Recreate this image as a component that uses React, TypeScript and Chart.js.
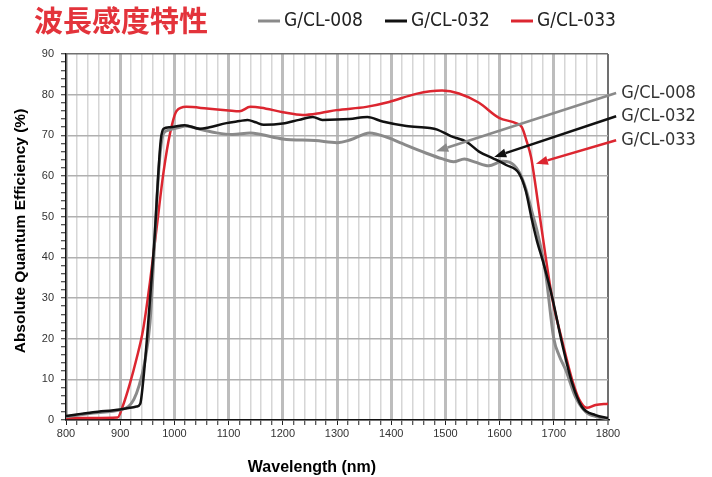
import React, { useEffect, useRef } from "react";
import { Chart, registerables } from "chart.js";

Chart.register(...registerables);

const chartTitle = "波長感度特性";
const xAxisTitle = "Wavelength (nm)";
const yAxisTitle = "Absolute Quantum Efficiency (%)";
const seriesNames = ["G/CL-008", "G/CL-032", "G/CL-033"];
const seriesColors = ["#8a8a8a", "#111111", "#dc2630"];
const seriesWidths = [3, 2.5, 2.5];

const xMin = 800;
const xMax = 1800;
const xStep = 20;
const yMin = 0;
const yMax = 90;
const yStep = 2;

const wl008 = [800, 850, 900, 915, 925, 935, 945, 955, 962, 968, 974, 980, 990, 1010, 1020, 1047, 1078, 1107, 1140, 1160, 1200, 1260, 1300, 1325, 1360, 1395, 1420, 1465, 1495, 1515, 1535, 1555, 1580, 1605, 1618, 1636, 1648, 1660, 1670, 1685, 1700, 1710, 1722, 1740, 1759, 1780, 1800];
const qe008 = [0.8, 1.7, 2.5, 3.3, 5, 8.5, 14, 24, 40, 55, 66, 70.5, 71.3, 72, 72.3, 71.5, 70.6, 70.2, 70.6, 70.2, 69.1, 68.7, 68.2, 68.9, 70.6, 69.4, 68, 65.6, 64.2, 63.5, 64.2, 63.4, 62.5, 63.6, 63.4, 61, 57, 51, 46, 36, 20, 15.8, 12.3, 5.7, 2, 0.8, 0.3];

const wl032 = [800, 850, 900, 930, 937, 942, 950, 958, 964, 970, 975, 980, 992, 1019, 1047, 1065, 1096, 1120, 1135, 1150, 1165, 1200, 1230, 1255, 1273, 1323, 1356, 1384, 1428, 1471, 1485, 1510, 1539, 1562, 1587, 1612, 1636, 1648, 1660, 1669, 1680, 1697, 1715, 1734, 1752, 1777, 1800];
const qe032 = [1.0, 1.9, 2.6, 3.3, 4, 9, 21, 35, 46, 60, 69, 71.6, 72, 72.5, 71.6, 72, 73, 73.5, 73.8, 73.2, 72.6, 72.9, 73.8, 74.5, 73.8, 74, 74.5, 73.4, 72.3, 71.8, 71.4, 69.8, 68.4, 66, 64.4, 62.7, 60.6, 56.5, 49, 44, 39, 30.2, 19, 9, 3.2, 1.2, 0.5];

const wl033 = [800, 850, 895, 905, 918, 930, 942, 955, 967, 980, 992, 1004, 1022, 1060, 1100, 1120, 1140, 1160, 1200, 1237, 1270, 1299, 1354, 1396, 1446, 1494, 1525, 1562, 1599, 1630, 1641, 1650, 1658, 1667, 1677, 1697, 1715, 1734, 1747, 1761, 1777, 1800];
const qe033 = [0.5, 0.5, 0.6, 3.5, 9, 15, 22, 34, 47, 61, 70.5, 76, 77, 76.6, 76.1, 75.9, 77, 76.8, 75.7, 75, 75.5, 76.2, 77, 78.2, 80.2, 81, 80.3, 78, 74.3, 73, 72, 68.5, 64.7, 57, 47.5, 30, 19.7, 9.8, 5, 3, 3.7, 4];

// callout arrows: tip on the curve, tail to the right of the plot (data units)
const arrowTipNm = [1483, 1590, 1667];
const arrowTipQe = [66.1, 64.7, 63];
const arrowTailNm = [1815, 1815, 1815];
const arrowTailQe = [80.4, 74.7, 68.8];

const condensed = '"DejaVu Sans Condensed", "DejaVu Sans", sans-serif';
const arial = '"Liberation Sans", Arial, sans-serif';

const overlay = {
  id: "overlay",
  afterDraw(chart: any) {
    const { ctx } = chart;
    const x = chart.scales.x;
    const y = chart.scales.y;
    ctx.save();

    // callouts
    for (let i = 0; i < seriesNames.length; i++) {
      const tx = x.getPixelForValue(arrowTipNm[i]);
      const ty = y.getPixelForValue(arrowTipQe[i]);
      const sx = x.getPixelForValue(arrowTailNm[i]);
      const sy = y.getPixelForValue(arrowTailQe[i]);
      const ang = Math.atan2(ty - sy, tx - sx);
      const headLen = 12;
      const headW = 4.5;
      const bx = tx - Math.cos(ang) * headLen;
      const by = ty - Math.sin(ang) * headLen;
      ctx.strokeStyle = seriesColors[i];
      ctx.fillStyle = seriesColors[i];
      ctx.lineWidth = 2.5;
      ctx.beginPath();
      ctx.moveTo(sx, sy);
      ctx.lineTo(bx, by);
      ctx.stroke();
      const px = -Math.sin(ang);
      const py = Math.cos(ang);
      ctx.beginPath();
      ctx.moveTo(tx, ty);
      ctx.lineTo(bx + px * headW, by + py * headW);
      ctx.lineTo(bx - px * headW, by - py * headW);
      ctx.closePath();
      ctx.fill();
      ctx.fillStyle = "#333333";
      ctx.font = `18px ${condensed}`;
      ctx.textAlign = "left";
      ctx.textBaseline = "middle";
      ctx.fillText(seriesNames[i], sx + 5, sy);
    }

    // title
    ctx.fillStyle = "#e3333b";
    ctx.font = 'bold 29px "Noto Sans CJK JP", sans-serif';
    ctx.textAlign = "left";
    ctx.textBaseline = "middle";
    ctx.fillText(chartTitle, 34, 21);

    // legend
    const legendX = [258, 385, 511];
    for (let i = 0; i < seriesNames.length; i++) {
      ctx.strokeStyle = seriesColors[i];
      ctx.lineWidth = 3;
      ctx.beginPath();
      ctx.moveTo(legendX[i], 21);
      ctx.lineTo(legendX[i] + 22, 21);
      ctx.stroke();
      ctx.fillStyle = "#222222";
      ctx.font = `19px ${condensed}`;
      ctx.fillText(seriesNames[i], legendX[i] + 26, 21);
    }

    // axis titles
    ctx.fillStyle = "#000000";
    ctx.textAlign = "center";
    ctx.textBaseline = "middle";
    ctx.font = `bold 16px ${arial}`;
    ctx.fillText(xAxisTitle, 312, 468);
    ctx.save();
    ctx.font = `bold 15.5px ${arial}`;
    ctx.translate(21, 231);
    ctx.rotate(-Math.PI / 2);
    ctx.fillText(yAxisTitle, 0, 0);
    ctx.restore();

    ctx.restore();
  },
};

export default function App() {
  const ref = useRef<HTMLCanvasElement>(null);

  useEffect(() => {
    if (!ref.current) return;
    const wls = [wl008, wl032, wl033];
    const qes = [qe008, qe032, qe033];
    const order = [1, 0, 2];
    const chart = new Chart(ref.current, {
      type: "line",
      data: {
        datasets: seriesNames.map((name, i) => ({
          label: name,
          data: wls[i].map((w, j) => ({ x: w, y: qes[i][j] })),
          borderColor: seriesColors[i],
          backgroundColor: seriesColors[i],
          borderWidth: seriesWidths[i],
          pointRadius: 0,
          fill: false,
          cubicInterpolationMode: "monotone" as const,
          order: order[i],
        })),
      },
      options: {
        responsive: false,
        animation: false,
        devicePixelRatio: 1,
        layout: { padding: { left: 0, top: 54, right: 104, bottom: 0 } },
        plugins: {
          legend: { display: false },
          tooltip: { enabled: false },
          title: { display: false },
        },
        scales: {
          x: {
            type: "linear",
            min: xMin,
            max: xMax,
            ticks: {
              stepSize: xStep,
              autoSkip: false,
              maxRotation: 0,
              padding: 2,
              color: "#333333",
              font: { family: arial, size: 11 },
              callback: (v: any) => (Number(v) % 100 === 0 ? String(v) : ""),
            },
            grid: {
              color: (c: any) => {
                const v = c.tick ? c.tick.value : 0;
                if (v === xMax) return "#707070";
                return v % 100 === 0 ? "#bdbdbd" : "#d6d6d6";
              },
              lineWidth: (c: any) => {
                const v = c.tick ? c.tick.value : 0;
                if (v === xMax) return 2;
                return v % 100 === 0 ? 3 : 1.5;
              },
              tickColor: "#222222",
              tickLength: 5,
              tickWidth: 1,
            },
            border: { color: "#111111", width: 1.5 },
            afterFit: (s: any) => {
              s.height = 57;
            },
          },
          y: {
            type: "linear",
            min: yMin,
            max: yMax,
            ticks: {
              stepSize: yStep,
              autoSkip: false,
              padding: 7,
              color: "#333333",
              font: { family: arial, size: 11 },
              callback: (v: any) => (Number(v) % 10 === 0 ? String(v) : ""),
            },
            grid: {
              color: (c: any) => {
                const v = c.tick ? c.tick.value : 0;
                if (v === yMax) return "#707070";
                return v % 10 === 0 ? "#b0b0b0" : "rgba(0,0,0,0)";
              },
              lineWidth: 1.5,
              tickColor: "#222222",
              tickLength: 5,
              tickWidth: 1,
            },
            border: { color: "#111111", width: 1.5 },
            afterFit: (s: any) => {
              s.width = 66;
            },
          },
        },
      },
      plugins: [overlay],
    });
    return () => chart.destroy();
  }, []);

  return (
    <div style={{ position: "absolute", left: 0, top: 0, width: 712, height: 477, background: "#ffffff" }}>
      <canvas ref={ref} width={712} height={477} style={{ display: "block" }} />
    </div>
  );
}
